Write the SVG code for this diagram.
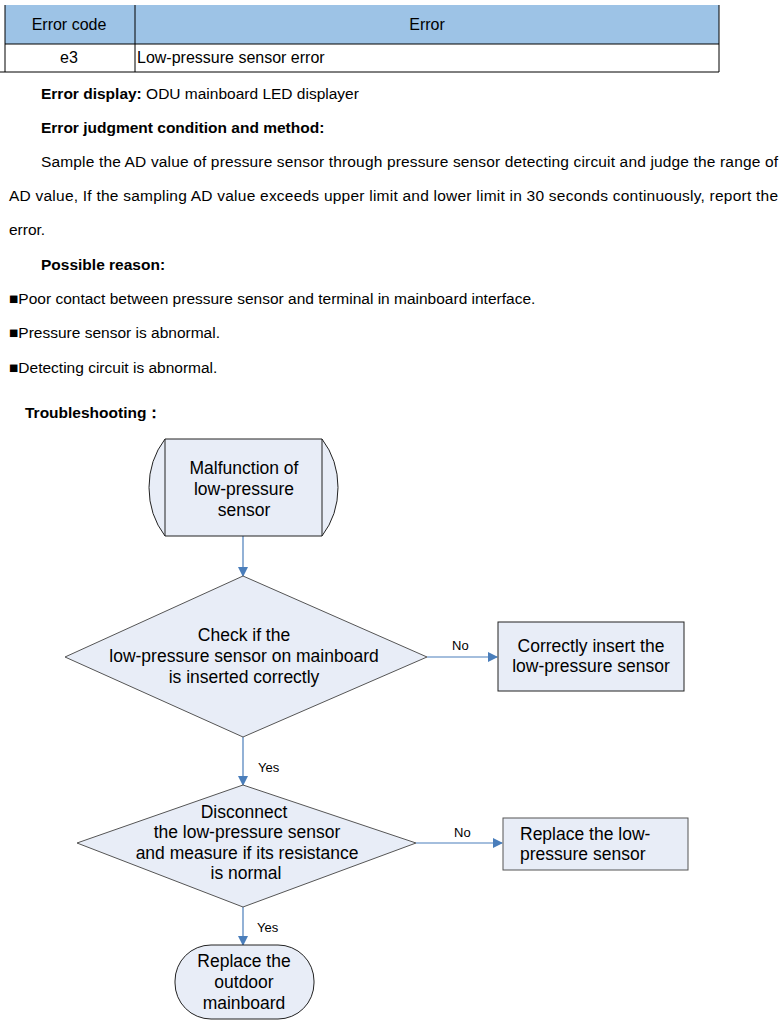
<svg xmlns="http://www.w3.org/2000/svg" width="784" height="1032" viewBox="0 0 784 1032">
<style>
text{font-family:"Liberation Sans",Arial,sans-serif;fill:#000}
.t{font-size:16px}
.p{font-size:15.5px}
.b{font-weight:bold}
.f{font-size:17.5px;text-anchor:middle}
.shape{fill:#e8edf7;stroke:#222;stroke-width:1}
.dia{fill:#e8edf7;stroke:#555;stroke-width:1}
.con{stroke:#4a7ebb;stroke-width:1.2;fill:none}
.lbl{font-size:13px}
</style>
<defs>
<marker id="ah" markerWidth="10" markerHeight="10" refX="9" refY="5" orient="auto" markerUnits="userSpaceOnUse">
<path d="M0,0 L10,5 L0,10 Z" fill="#4a7ebb"/>
</marker>
</defs>
<g id="table">
<rect x="5" y="5" width="714" height="39" fill="#9dc3e6"/>
<line x1="5" y1="5" x2="5" y2="72" stroke="#000"/>
<line x1="135" y1="5" x2="135" y2="72" stroke="#000"/>
<line x1="719" y1="5" x2="719" y2="72" stroke="#000"/>
<line x1="5" y1="44" x2="719" y2="44" stroke="#000"/>
<line x1="0" y1="72" x2="719" y2="72" stroke="#000"/>
<text class="t" x="69" y="30" text-anchor="middle">Error code</text>
<text class="t" x="427" y="30" text-anchor="middle">Error</text>
<text class="t" x="69" y="63" text-anchor="middle">e3</text>
<text class="t" x="137" y="63">Low-pressure sensor error</text>
</g>
<g id="body">
<text class="p" x="41" y="99"><tspan class="b">Error display:</tspan> ODU mainboard LED displayer</text>
<text class="p b" x="41" y="133">Error judgment condition and method:</text>
<text class="p" x="41" y="167" textLength="737" lengthAdjust="spacing">Sample the AD value of pressure sensor through pressure sensor detecting circuit and judge the range of</text>
<text class="p" x="9" y="201" textLength="769" lengthAdjust="spacing">AD value, If the sampling AD value exceeds upper limit and lower limit in 30 seconds continuously, report the</text>
<text class="p" x="9" y="235">error.</text>
<text class="p b" x="41" y="270">Possible reason:</text>
<text class="p" x="9" y="304">■Poor contact between pressure sensor and terminal in mainboard interface.</text>
<text class="p" x="9" y="338">■Pressure sensor is abnormal.</text>
<text class="p" x="9" y="373">■Detecting circuit is abnormal.</text>
<text class="p b" x="25" y="418">Troubleshooting：</text>
</g>
<g id="connectors">
<line class="con" x1="243" y1="536" x2="243" y2="576" marker-end="url(#ah)"/>
<line class="con" x1="427" y1="657" x2="497" y2="657" marker-end="url(#ah)"/>
<text class="lbl" x="452" y="650">No</text>
<line class="con" x1="243" y1="737" x2="243" y2="785" marker-end="url(#ah)"/>
<text class="lbl" x="258" y="772">Yes</text>
<line class="con" x1="416" y1="843" x2="502" y2="843" marker-end="url(#ah)"/>
<text class="lbl" x="454" y="837">No</text>
<line class="con" x1="243" y1="907" x2="243" y2="945" marker-end="url(#ah)"/>
<text class="lbl" x="257" y="932">Yes</text>
</g>
<g id="start">
<path class="shape" d="M165,439 L322,439 Q338,460 338,487.5 Q338,515 322,536 L165,536 Q149,515 149,487.5 Q149,460 165,439 Z"/>
<line x1="165" y1="439" x2="165" y2="536" stroke="#222"/>
<line x1="322" y1="439" x2="322" y2="536" stroke="#222"/>
<text class="f" x="244" y="474">Malfunction of</text>
<text class="f" x="244" y="495">low-pressure</text>
<text class="f" x="244" y="516">sensor</text>
</g>
<g id="check1">
<polygon class="dia" points="243,576 427,657 243,737 65,657"/>
<text class="f" x="244" y="641">Check if the</text>
<text class="f" x="244" y="662">low-pressure sensor on mainboard</text>
<text class="f" x="244" y="683">is inserted correctly</text>
</g>
<g id="insert">
<rect class="shape" x="498" y="622" width="186" height="69"/>
<text class="f" x="591" y="652">Correctly insert the</text>
<text class="f" x="591" y="672">low-pressure sensor</text>
</g>
<g id="check2">
<polygon class="dia" points="243,785 416,843 243,907 77,843"/>
<text class="f" x="244" y="818">Disconnect</text>
<text class="f" x="247" y="838">the low-pressure sensor</text>
<text class="f" x="247" y="859">and measure if its resistance</text>
<text class="f" x="246" y="879">is normal</text>
</g>
<g id="replace_sensor">
<rect class="shape" x="503" y="818" width="185" height="52" style="stroke:#555"/>
<text class="f" x="520" y="840" style="text-anchor:start">Replace the low-</text>
<text class="f" x="520" y="860" style="text-anchor:start">pressure sensor</text>
</g>
<g id="replace_board">
<rect class="shape" x="175" y="945" width="139" height="74" rx="36" ry="36"/>
<text class="f" x="244" y="967">Replace the</text>
<text class="f" x="244" y="988">outdoor</text>
<text class="f" x="244" y="1009">mainboard</text>
</g>
</svg>
